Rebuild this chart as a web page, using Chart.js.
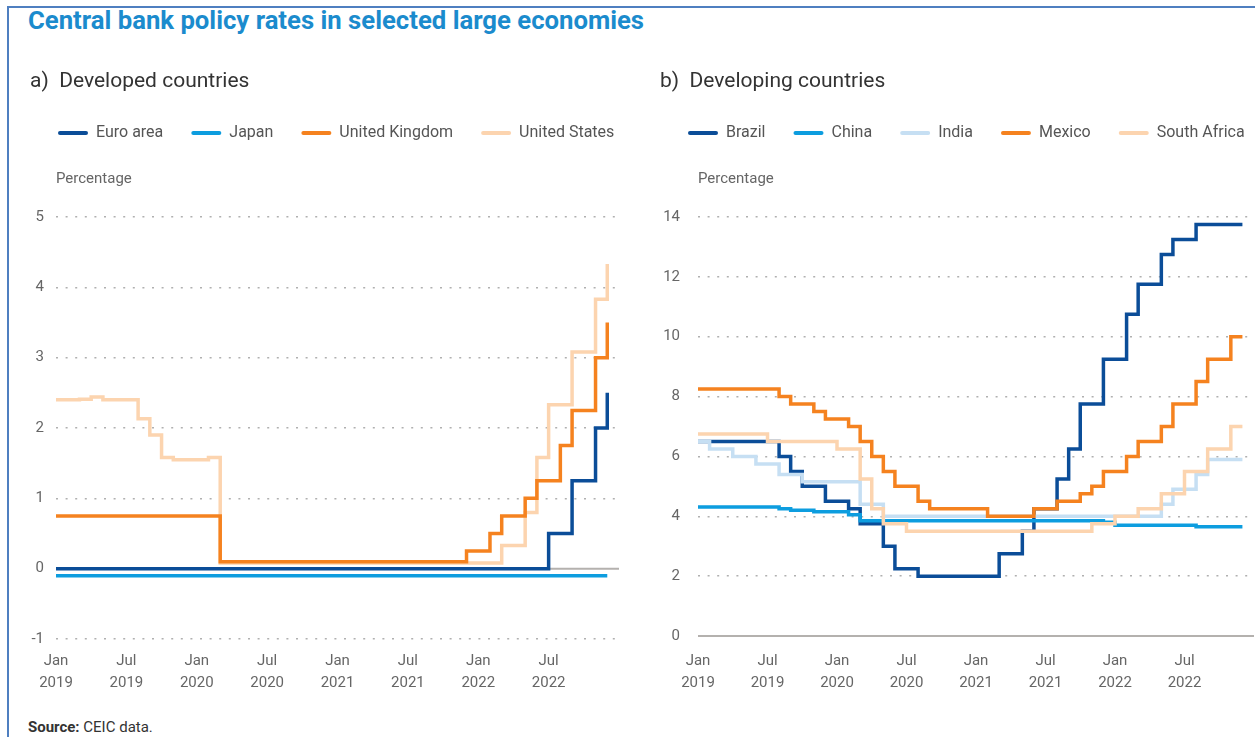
<!DOCTYPE html>
<html>
<head>
<meta charset="utf-8">
<title>Central bank policy rates</title>
<script src="https://cdn.jsdelivr.net/npm/chart.js@4.4.1/dist/chart.umd.min.js"></script>
<style>
  body { margin: 0; width: 1255px; height: 737px; overflow: hidden; background: #fff; position: relative; font-family: Roboto, sans-serif; }
  #frame { position: absolute; left: 7px; top: 6px; width: 1400px; height: 900px; border-left: 2px solid #4f7fc0; border-top: 2px solid #4f7fc0; }
  #title { position: absolute; left: 28px; top: 7px; font-size: 25.7px; line-height: 26px; font-weight: 700; color: #1b8bcd; white-space: nowrap; }
  .panel { position: absolute; top: 50px; }
  #source { position: absolute; left: 28px; top: 718px; font-size: 15px; line-height: 18px; color: #333; }
</style>
</head>
<body>
<div id="frame"></div>
<div id="title">Central bank policy rates in selected large economies</div>
<canvas id="leftChart" class="panel" style="left:0px" width="660" height="660"></canvas>
<canvas id="rightChart" class="panel" style="left:630px" width="660" height="660"></canvas>
<div id="source"><b>Source:</b> CEIC data.</div>

<script>
// x axis: one label per month, Jan 2023 only closes the scale
const months = [
  'Jan 2019','Feb 2019','Mar 2019','Apr 2019','May 2019','Jun 2019','Jul 2019','Aug 2019','Sep 2019','Oct 2019','Nov 2019','Dec 2019',
  'Jan 2020','Feb 2020','Mar 2020','Apr 2020','May 2020','Jun 2020','Jul 2020','Aug 2020','Sep 2020','Oct 2020','Nov 2020','Dec 2020',
  'Jan 2021','Feb 2021','Mar 2021','Apr 2021','May 2021','Jun 2021','Jul 2021','Aug 2021','Sep 2021','Oct 2021','Nov 2021','Dec 2021',
  'Jan 2022','Feb 2022','Mar 2022','Apr 2022','May 2022','Jun 2022','Jul 2022','Aug 2022','Sep 2022','Oct 2022','Nov 2022','Dec 2022',
  'Jan 2023'
];
const xTicks = ['Jan 2019','Jul 2019','Jan 2020','Jul 2020','Jan 2021','Jul 2021','Jan 2022','Jul 2022'];

// a) developed countries, percent
const euroArea = [
  0,0,0,0,0,0,0,0,0,0,0,0,
  0,0,0,0,0,0,0,0,0,0,0,0,
  0,0,0,0,0,0,0,0,0,0,0,0,
  0,0,0,0,0,0,0.5,0.5,1.25,1.25,2,2.5
];
const japan = [
  -0.1,-0.1,-0.1,-0.1,-0.1,-0.1,-0.1,-0.1,-0.1,-0.1,-0.1,-0.1,
  -0.1,-0.1,-0.1,-0.1,-0.1,-0.1,-0.1,-0.1,-0.1,-0.1,-0.1,-0.1,
  -0.1,-0.1,-0.1,-0.1,-0.1,-0.1,-0.1,-0.1,-0.1,-0.1,-0.1,-0.1,
  -0.1,-0.1,-0.1,-0.1,-0.1,-0.1,-0.1,-0.1,-0.1,-0.1,-0.1,-0.1
];
const unitedKingdom = [
  0.75,0.75,0.75,0.75,0.75,0.75,0.75,0.75,0.75,0.75,0.75,0.75,
  0.75,0.75,0.1,0.1,0.1,0.1,0.1,0.1,0.1,0.1,0.1,0.1,
  0.1,0.1,0.1,0.1,0.1,0.1,0.1,0.1,0.1,0.1,0.1,0.25,
  0.25,0.5,0.75,0.75,1,1.25,1.25,1.75,2.25,2.25,3,3.5
];
const unitedStates = [
  2.40,2.40,2.41,2.44,2.40,2.40,2.40,2.13,1.90,1.58,1.55,1.55,
  1.55,1.58,0.08,0.08,0.08,0.08,0.08,0.08,0.08,0.08,0.08,0.08,
  0.08,0.08,0.08,0.08,0.08,0.08,0.08,0.08,0.08,0.08,0.08,0.08,
  0.08,0.08,0.33,0.33,0.80,1.58,2.33,2.33,3.08,3.08,3.83,4.33
];

// b) developing countries, percent
const brazil = [
  6.5,6.5,6.5,6.5,6.5,6.5,6.5,6,5.5,5,5,4.5,
  4.5,4.25,3.75,3.75,3,2.25,2.25,2,2,2,2,2,
  2,2,2.75,2.75,3.5,4.25,4.25,5.25,6.25,7.75,7.75,9.25,
  9.25,10.75,11.75,11.75,12.75,13.25,13.25,13.75,13.75,13.75,13.75,13.75
];
const china = [
  4.31,4.31,4.31,4.31,4.31,4.31,4.31,4.25,4.20,4.20,4.15,4.15,
  4.15,4.05,3.85,3.85,3.85,3.85,3.85,3.85,3.85,3.85,3.85,3.85,
  3.85,3.85,3.85,3.85,3.85,3.85,3.85,3.85,3.85,3.85,3.85,3.80,
  3.70,3.70,3.70,3.70,3.70,3.70,3.70,3.65,3.65,3.65,3.65,3.65
];
const india = [
  6.5,6.25,6.25,6,6,5.75,5.75,5.4,5.4,5.15,5.15,5.15,
  5.15,5.15,4.4,4.4,4,4,4,4,4,4,4,4,
  4,4,4,4,4,4,4,4,4,4,4,4,
  4,4,4,4,4.4,4.9,4.9,5.4,5.9,5.9,5.9,5.9
];
const mexico = [
  8.25,8.25,8.25,8.25,8.25,8.25,8.25,8,7.75,7.75,7.5,7.25,
  7.25,7,6.5,6,5.5,5,5,4.5,4.25,4.25,4.25,4.25,
  4.25,4,4,4,4,4.25,4.25,4.5,4.5,4.75,5,5.5,
  5.5,6,6.5,6.5,7,7.75,7.75,8.5,9.25,9.25,10,10
];
const southAfrica = [
  6.75,6.75,6.75,6.75,6.75,6.75,6.5,6.5,6.5,6.5,6.5,6.5,
  6.25,6.25,5.25,4.25,3.75,3.75,3.5,3.5,3.5,3.5,3.5,3.5,
  3.5,3.5,3.5,3.5,3.5,3.5,3.5,3.5,3.5,3.5,3.75,3.75,
  4,4,4.25,4.25,4.75,4.75,5.5,5.5,6.25,6.25,7,7
];

const darkBlue = '#0b4d98';
const midBlue = '#0d9ddf';
const lightBlue = '#c6dff3';
const orange = '#f5821f';
const peach = '#fcd4af';

Chart.defaults.font.family = 'Roboto';
Chart.defaults.color = '#666';

// solid grey line at zero, under the series
const zeroLine = {
  id: 'zeroLine',
  beforeDatasetsDraw(chart) {
    const {ctx, chartArea, scales} = chart;
    const y0 = scales.y.getPixelForValue(0);
    ctx.save();
    ctx.strokeStyle = '#b4b1ae';
    ctx.lineWidth = 2;
    ctx.beginPath();
    ctx.moveTo(chartArea.left, y0);
    ctx.lineTo(chartArea.right, y0);
    ctx.stroke();
    ctx.restore();
  }
};

function stepLine(label, values, color, order) {
  return {
    label: label,
    data: values,
    borderColor: color,
    backgroundColor: color,
    borderWidth: 3.5,
    stepped: true,
    pointRadius: 0,
    pointHoverRadius: 0,
    order: order
  };
}

function panel(id, heading, datasets, yMin, yMax, yStep, yWidth, yPad, xHeight, xPad, rightGap) {
  return new Chart(id, {
    type: 'line',
    data: {labels: months, datasets: datasets},
    plugins: [zeroLine],
    options: {
      responsive: false,
      devicePixelRatio: 1,
      animation: false,
      layout: {padding: {left: 30, top: 0, right: 0, bottom: 0}},
      plugins: {
        title: {
          display: true, text: heading, align: 'start', color: '#333',
          font: {size: 21, weight: 'normal'}, padding: {top: 19.5, bottom: 2.3}
        },
        legend: {
          align: 'start',
          labels: {
            color: '#555', font: {size: 16}, boxWidth: 30, boxHeight: 4, padding: 28,
            useBorderRadius: true, borderRadius: 2,
            sort: (a, b) => a.datasetIndex - b.datasetIndex,
            generateLabels: chart => Chart.defaults.plugins.legend.labels.generateLabels(chart)
              .map(item => Object.assign(item, {lineWidth: 0}))
          }
        },
        subtitle: {
          display: true, text: 'Percentage', align: 'start', color: '#666', fullSize: false, weight: 500,
          font: {size: 15}, padding: {top: 19, bottom: 29}
        },
        tooltip: {enabled: false}
      },
      scales: {
        x: {
          grid: {display: false},
          border: {display: false},
          ticks: {
            autoSkip: false, maxRotation: 0, padding: xPad, color: '#666',
            font: {size: 15, lineHeight: '22px'},
            callback: (v, i) => xTicks.includes(months[i]) ? months[i].split(' ') : null
          },
          afterFit: s => { s.height = xHeight; }
        },
        y: {
          min: yMin, max: yMax,
          grid: {
            color: c => c.tick.value === 0 ? 'rgba(0,0,0,0)' : '#b0b0b0',
            lineWidth: 1.5, drawTicks: false
          },
          border: {display: false, dash: [2, 7.6]},
          ticks: {stepSize: yStep, padding: yPad, color: '#666', font: {size: 15}},
          afterFit: s => { s.width = yWidth; }
        },
        y2: {
          position: 'right',
          grid: {display: false},
          border: {display: false},
          ticks: {display: false},
          afterFit: s => { s.width = rightGap; }
        }
      }
    }
  });
}

panel('leftChart', 'a)  Developed countries', [
  stepLine('Euro area', euroArea, darkBlue),
  stepLine('Japan', japan, midBlue),
  stepLine('United Kingdom', unitedKingdom, orange),
  stepLine('United States', unitedStates, peach)
], -1, 5, 1, 26, 12, 71, 3, 41);

panel('rightChart', 'b)  Developing countries', [
  stepLine('Brazil', brazil, darkBlue, 5),
  stepLine('China', china, midBlue, 4),
  stepLine('India', india, lightBlue, 3),
  stepLine('Mexico', mexico, orange, 2),
  stepLine('South Africa', southAfrica, peach, 1)
], 0, 14, 2, 38, 18, 74, 6, 36);
</script>
</body>
</html>
